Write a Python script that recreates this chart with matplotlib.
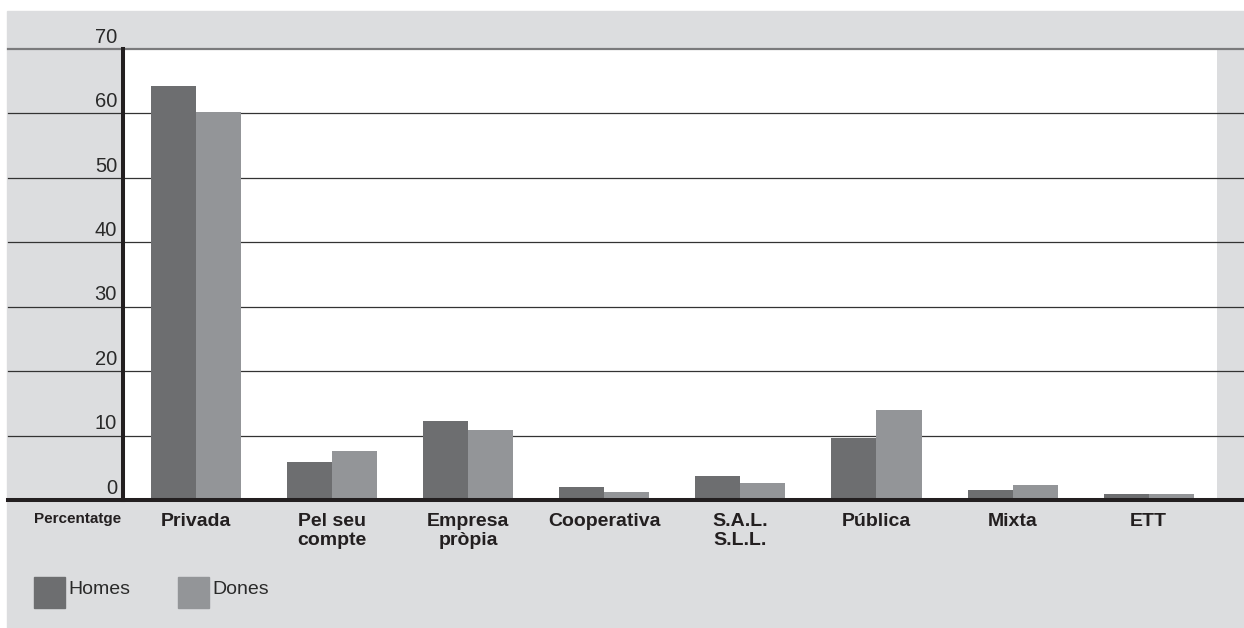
import matplotlib.pyplot as plt
from matplotlib.patches import Rectangle
import numpy as np

# Dades
categories = ['Privada', 'Pel seu\ncompte', 'Empresa\npròpia', 'Cooperativa',
              'S.A.L.\nS.L.L.', 'Pública', 'Mixta', 'ETT']
homes = [64.2, 5.9, 12.3, 2.0, 3.7, 9.6, 1.5, 0.9]
dones = [60.2, 7.6, 10.9, 1.2, 2.6, 14.0, 2.3, 0.9]
yticks = [0, 10, 20, 30, 40, 50, 60, 70]

W, H = 1244, 628
col_homes = '#6d6e70'
col_dones = '#939598'
col_panel = '#dcdddf'
col_dark = '#231f20'

plt.rcParams['font.family'] = ['Liberation Sans', 'DejaVu Sans']

fig = plt.figure(figsize=(W / 100, H / 100), dpi=100, facecolor='white')

# fons gris del requadre (per sota dels eixos)
fig.patches.append(Rectangle((7 / W, 0), 1 - 7 / W, 1 - 11 / H,
                             transform=fig.transFigure, color=col_panel, zorder=-5))

# eixos (en píxels de la figura)
left, right, top, bottom = 123, 1217, 49, 500
ax = fig.add_axes([left / W, 1 - bottom / H, (right - left) / W, (bottom - top) / H])
ax.set_facecolor('white')

x = np.arange(len(categories))
bw = 0.331
ax.bar(x - bw / 2, homes, bw, color=col_homes, zorder=3)
ax.bar(x + bw / 2, dones, bw, color=col_dones, zorder=3)

ax.set_xlim((left - 196) / 136.1, (right - 196) / 136.1)
ax.set_ylim(0, 70)

# línies horitzontals que travessen tot el requadre
axw = right - left
xmin = (8 - left) / axw
xmax = (W - left) / axw
for v in yticks[1:]:
    if v == 70:
        ax.axhline(v, xmin=xmin, xmax=xmax, color='#7a7a7c', lw=1.6, clip_on=False, zorder=1)
    else:
        ax.axhline(v, xmin=xmin, xmax=xmax, color='#333333', lw=0.9, clip_on=False, zorder=1)
ax.axhline(0, xmin=xmin, xmax=xmax, color=col_dark, lw=2.9, clip_on=False, zorder=5)

# etiquetes de l'eix Y, damunt de cada línia
for v in yticks:
    ax.text(-6 / axw, v + 0.35, str(v), transform=ax.get_yaxis_transform(),
            ha='right', va='bottom', fontsize=14.5, color='#2a2a2a')
ax.set_yticks([])

ax.set_xticks(x)
ax.set_xticklabels(categories, fontsize=14, fontweight='bold', color=col_dark,
                   linespacing=1.2, va='top')
ax.tick_params(axis='x', length=0, pad=9)

for s in ['top', 'right', 'bottom']:
    ax.spines[s].set_visible(False)
ax.spines['left'].set_linewidth(2.9)
ax.spines['left'].set_color(col_dark)
ax.spines['left'].set_zorder(6)

fig.text(78 / W, 1 - 519 / H, 'Percentatge', ha='center', va='center',
         fontsize=11, fontweight='bold', color=col_dark)

# llegenda
for x0, txt, c in [(34, 'Homes', col_homes), (178, 'Dones', col_dones)]:
    fig.patches.append(Rectangle((x0 / W, 1 - 608 / H), 31 / W, 31 / H,
                                 transform=fig.transFigure, color=c, zorder=2))
    fig.text((x0 + 34) / W, 1 - 590 / H, txt, ha='left', va='center',
             fontsize=14, color='#2a2a2a')

fig.savefig('out.png', dpi=100, facecolor='white')
